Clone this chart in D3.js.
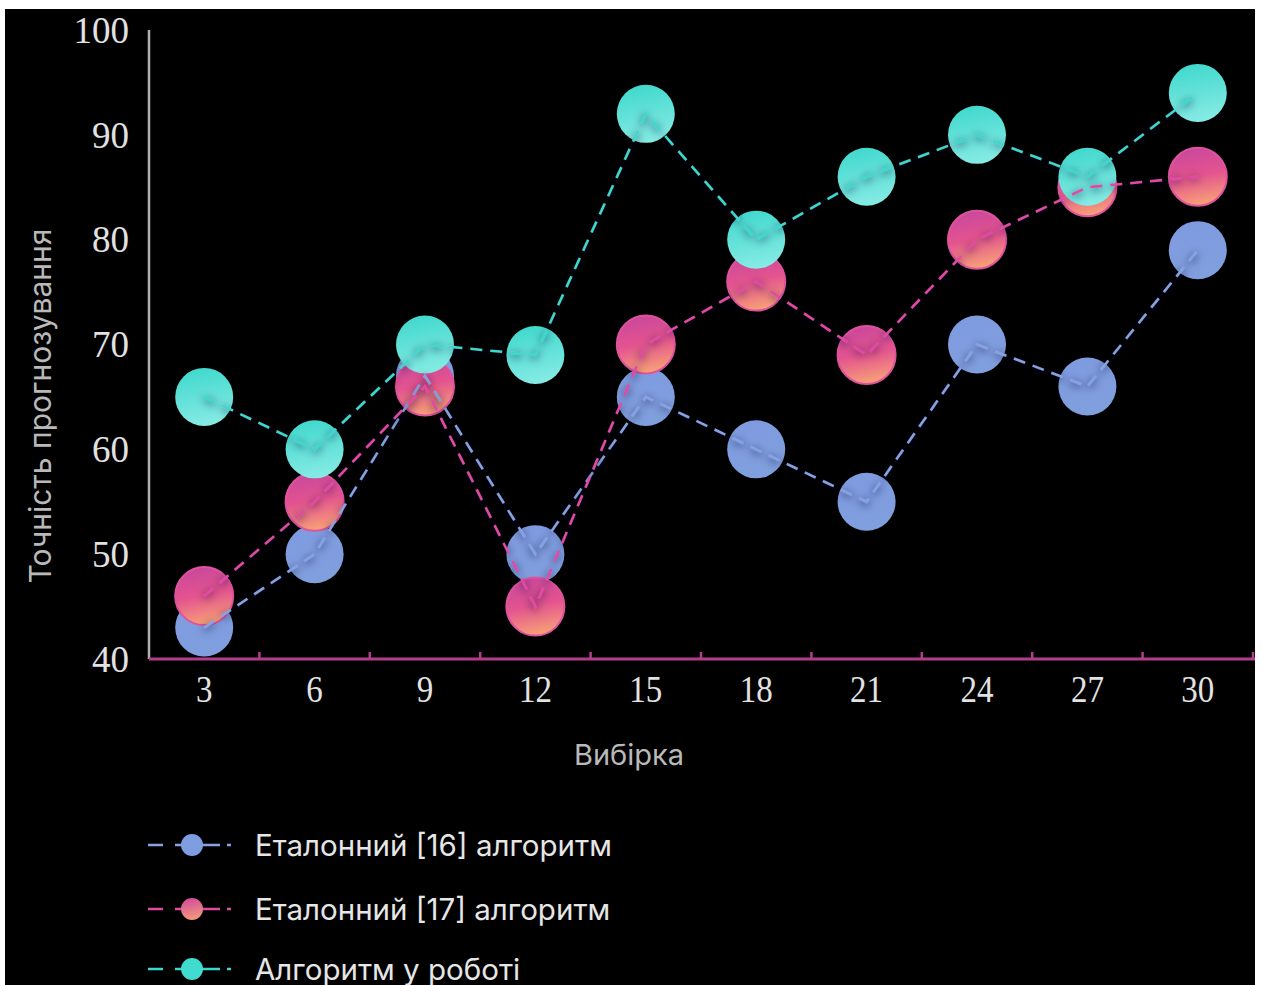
<!DOCTYPE html>
<html>
<head>
<meta charset="utf-8">
<script src="https://cdn.jsdelivr.net/npm/d3@7/dist/d3.min.js"></script>
<style>
  html, body { margin: 0; padding: 0; background: #ffffff; }
  svg { display: block; }
  .tick text.serif { transform-box: fill-box; transform-origin: center; }
  .x-ax .tick text.serif { transform: scaleY(1.16); }
  .y-ax .tick text.serif { transform: scaleY(1.03); }
</style>
</head>
<body>
<svg id="chart" width="1263" height="985"></svg>
<script>
// Sample sizes on the horizontal axis
const categories = ["3", "6", "9", "12", "15", "18", "21", "24", "27", "30"];
// Forecast accuracy per algorithm
const reference16 = [43, 50, 67, 50, 65, 60, 55, 70, 66, 79];
const reference17 = [46, 55, 66, 45, 70, 76, 69, 80, 85, 86];
const proposed    = [65, 60, 70, 69, 92, 80, 86, 90, 86, 94];
const yTicks = [40, 50, 60, 70, 80, 90, 100];

const seriesNames = ["Еталонний [16] алгоритм", "Еталонний [17] алгоритм", "Алгоритм у роботі"];

const svg = d3.select("#chart");
const defs = svg.append("defs");

// dark background panel
svg.append("rect").attr("x", 5).attr("y", 9).attr("width", 1250).attr("height", 976).attr("fill", "#000");

const plotLeft = 149, plotRight = 1253, plotTop = 30, plotBottom = 659;

const x = d3.scaleBand().domain(categories).range([plotLeft, plotRight]);
const y = d3.scaleLinear().domain([40, 100]).range([plotBottom, plotTop]);

// gradients for markers
function vGrad(id, stops) {
  const g = defs.append("linearGradient").attr("id", id)
    .attr("x1", "0.3").attr("y1", "0").attr("x2", "0.5").attr("y2", "1");
  stops.forEach(s => g.append("stop").attr("offset", s[0]).attr("stop-color", s[1]));
}
vGrad("gBlue", [[0, "#7e9be0"], [1, "#809fdd"]]);
vGrad("gPink", [[0, "#c8479c"], [0.5, "#e4548f"], [1, "#f7a276"]]);
vGrad("gCyan", [[0, "#40d8cd"], [1, "#86ebe4"]]);
vGrad("gPinkL", [[0, "#d24a9c"], [1, "#f49a7c"]]);

const shadow = defs.append("filter").attr("id", "lineShadow")
  .attr("x", "-20%").attr("y", "-20%").attr("width", "140%").attr("height", "140%");
shadow.append("feDropShadow").attr("dx", 0).attr("dy", 2).attr("stdDeviation", 4)
  .attr("flood-color", "#0a0a30").attr("flood-opacity", 0.9);

const series = [
  { name: seriesNames[0], values: reference16, line: "#86a2e2", fill: "url(#gBlue)", stroke: "none", legendFill: "#7f9de0" },
  { name: seriesNames[1], values: reference17, line: "#e04aa4", fill: "url(#gPink)", stroke: "#e052a0", legendFill: "url(#gPinkL)" },
  { name: seriesNames[2], values: proposed, line: "#3fd6cc", fill: "url(#gCyan)", stroke: "none", legendFill: "#40dccf" }
];

// y axis
const yAxis = d3.axisLeft(y).tickValues(yTicks).tickSize(0).tickPadding(20);
const yg = svg.append("g").attr("class", "y-ax").attr("transform", `translate(${plotLeft},0)`).call(yAxis);
yg.select(".domain").attr("stroke", "#b0b0b0").attr("stroke-width", 2.5)
  .attr("d", `M0,${plotTop}V${plotBottom}`);
yg.selectAll(".tick text").attr("class", "serif")
  .attr("font-family", "'Liberation Serif', 'Times New Roman', serif")
  .attr("font-size", 37).attr("fill", "#e2e2e2").attr("dy", "0.32em");

// x axis
const xAxis = d3.axisBottom(x).tickSize(0).tickPadding(18);
const xg = svg.append("g").attr("class", "x-ax").attr("transform", `translate(0,${plotBottom})`).call(xAxis);
xg.select(".domain").remove();
xg.selectAll(".tick text").attr("class", "serif")
  .attr("font-family", "'Liberation Serif', 'Times New Roman', serif")
  .attr("font-size", 33).attr("fill", "#e2e2e2");
xg.append("line").attr("x1", plotLeft).attr("x2", 1255).attr("y1", 0).attr("y2", 0)
  .attr("stroke", "#b43c8c").attr("stroke-width", 3);
xg.selectAll(".edge").data(categories).enter().append("line")
  .attr("class", "edge")
  .attr("x1", d => x(d) + x.bandwidth()).attr("x2", d => x(d) + x.bandwidth())
  .attr("y1", 0).attr("y2", -7)
  .attr("stroke", "#b43c8c").attr("stroke-width", 2.5);

// axis titles
svg.append("text").attr("transform", "translate(51,406) rotate(-90)")
  .attr("text-anchor", "middle").attr("font-family", "Inter, 'Noto Sans', sans-serif")
  .attr("font-size", 30).attr("fill", "#b9b9b9").text("Точність прогнозування");
svg.append("text").attr("x", 629).attr("y", 765)
  .attr("text-anchor", "middle").attr("font-family", "Inter, 'Noto Sans', sans-serif")
  .attr("font-size", 29).attr("fill", "#b9b9b9").text("Вибірка");

const cx = (d, i) => x(categories[i]) + x.bandwidth() / 2;

// markers
const markers = svg.append("g");
series.forEach(s => {
  markers.append("g").selectAll("circle").data(s.values).enter().append("circle")
    .attr("cx", cx).attr("cy", d => y(d)).attr("r", 29)
    .attr("fill", s.fill).attr("stroke", s.stroke).attr("stroke-width", s.stroke === "none" ? 0 : 2);
});

// dashed lines
const lineGen = d3.line().x(cx).y(d => y(d));
const lines = svg.append("g");
series.forEach(s => {
  lines.append("path").datum(s.values).attr("d", lineGen)
    .attr("fill", "none").attr("stroke", s.line).attr("stroke-width", 2.6)
    .attr("stroke-dasharray", "12,8").attr("filter", "url(#lineShadow)");
});

// legend
const legend = svg.append("g");
const legendY = [845, 909, 969];
series.forEach((s, i) => {
  const g = legend.append("g").attr("transform", `translate(0,${legendY[i]})`);
  g.append("line").attr("x1", 148).attr("x2", 231).attr("y1", 0).attr("y2", 0)
    .attr("stroke", s.line).attr("stroke-width", 2.5).attr("stroke-dasharray", "15,12,45,7,4");
  g.append("circle").attr("cx", 192).attr("cy", 0).attr("r", 11).attr("fill", s.legendFill);
  g.append("text").attr("x", 255).attr("y", 0).attr("dy", "0.36em")
    .attr("font-family", "Inter, 'Noto Sans', sans-serif").attr("font-size", 29.5)
    .attr("fill", "#e6e6e6").text(s.name);
});
</script>
</body>
</html>
